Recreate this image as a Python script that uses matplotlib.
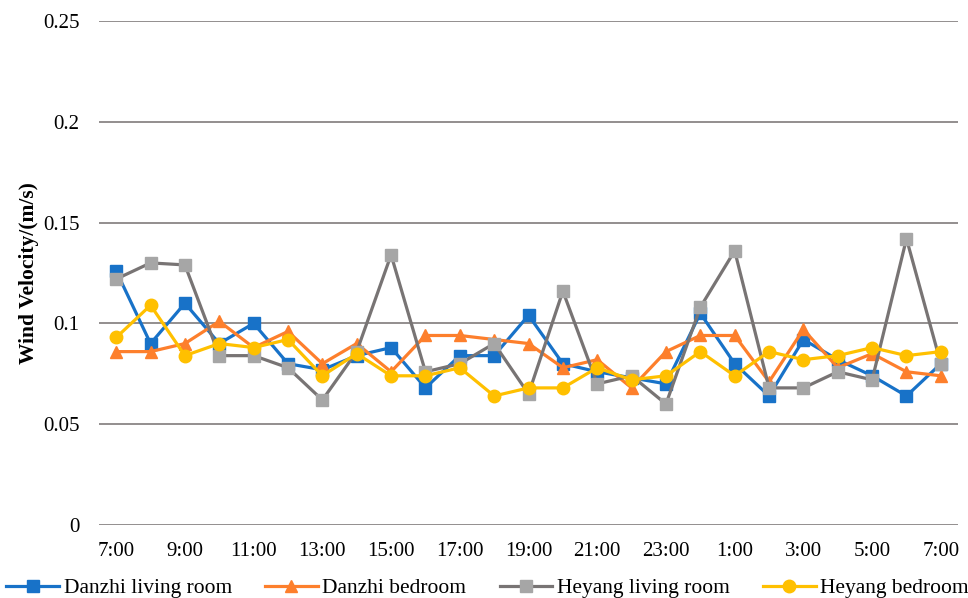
import numpy as np
import matplotlib.pyplot as plt

plt.rcParams['font.family'] = ['Liberation Serif', 'DejaVu Serif']

# Hourly readings, 7:00 to 7:00 the next day
hours = ['7:00', '8:00', '9:00', '10:00', '11:00', '12:00', '13:00', '14:00',
         '15:00', '16:00', '17:00', '18:00', '19:00', '20:00', '21:00', '22:00',
         '23:00', '0:00', '1:00', '2:00', '3:00', '4:00', '5:00', '6:00', '7:00']

danzhi_living = [0.126, 0.090, 0.110, 0.090, 0.100, 0.080, 0.077, 0.084, 0.088,
                 0.068, 0.084, 0.084, 0.104, 0.080, 0.076, 0.073, 0.070, 0.105,
                 0.080, 0.064, 0.092, 0.082, 0.074, 0.064, 0.080]
danzhi_bed = [0.086, 0.086, 0.090, 0.101, 0.088, 0.096, 0.080, 0.090, 0.076,
              0.094, 0.094, 0.092, 0.090, 0.078, 0.082, 0.068, 0.086, 0.094,
              0.094, 0.071, 0.097, 0.078, 0.085, 0.076, 0.074]
heyang_living = [0.122, 0.130, 0.129, 0.084, 0.084, 0.078, 0.062, 0.086, 0.134,
                 0.076, 0.080, 0.090, 0.065, 0.116, 0.070, 0.074, 0.060, 0.108,
                 0.136, 0.068, 0.068, 0.076, 0.072, 0.142, 0.080]
heyang_bed = [0.093, 0.109, 0.084, 0.090, 0.088, 0.092, 0.074, 0.085, 0.074,
              0.074, 0.078, 0.064, 0.068, 0.068, 0.078, 0.072, 0.074, 0.086,
              0.074, 0.086, 0.082, 0.084, 0.088, 0.084, 0.086]

x = np.arange(len(hours))

fig = plt.figure(figsize=(9.68, 5.98), dpi=100)
ax = fig.add_axes([0.1023, 0.1221, 0.8874, 0.8428])

ax.plot(x, danzhi_living, color='#1872c8', lw=2.3, marker='s', ms=8.5,
        label='Danzhi living room', zorder=3)
ax.plot(x, danzhi_bed, color='#fd7f2c', lw=2.3, marker='^', ms=9,
        label='Danzhi bedroom', zorder=3)
ax.plot(x, heyang_living, color='#787474', lw=2.3, marker='s', ms=9,
        mfc='#a6a6a6', mec='#a6a6a6', label='Heyang living room', zorder=3)
ax.plot(x, heyang_bed, color='#ffc000', lw=2.3, marker='o', ms=9,
        label='Heyang bedroom', zorder=3)

ax.set_xlim(-0.5, 24.5)
ax.set_ylim(0, 0.25)
ax.set_yticks([0, 0.05, 0.1, 0.15, 0.2, 0.25])
ax.set_yticklabels(['0', '0.05', '0.1', '0.15', '0.2', '0.25'])
ax.set_xticks(x[::2])
ax.set_xticklabels(hours[::2])
ax.tick_params(length=0, labelsize=15, colors='black')
ax.tick_params(axis='x', pad=12)
ax.tick_params(axis='y', pad=14)

ax.grid(axis='y', color='#8a8686', lw=1.3)
ax.set_axisbelow(True)
for s in ax.spines.values():
    s.set_visible(False)

ax.set_ylabel('Wind Velocity/(m/s)', fontsize=15.5, fontweight='bold', labelpad=3)

fig.legend(loc='center', bbox_to_anchor=(0.5036, 1 - 588 / 598), ncol=4,
           frameon=False, fontsize=15.5, handlelength=2.45, handletextpad=0.2,
           columnspacing=1.55)

fig.savefig('out.png', dpi=100)
